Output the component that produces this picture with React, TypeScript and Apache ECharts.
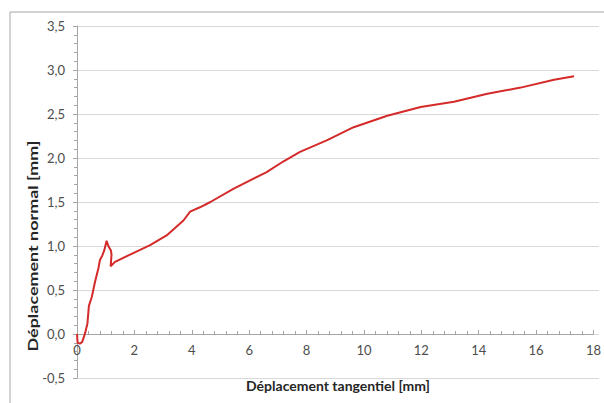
import React, { useEffect, useRef } from "react";
import * as echarts from "echarts";

const xValues = [0, 0.02, 0.10, 0.18, 0.28, 0.36, 0.41, 0.51, 0.62, 0.74, 0.79, 0.87, 0.94, 1.02, 1.08, 1.17, 1.19, 1.16, 1.31, 1.94, 2.52, 3.09, 3.67, 3.90, 4.24, 4.60, 5.39, 6.54, 7.11, 7.69, 8.61, 9.54, 10.70, 11.85, 13.0, 14.15, 15.30, 16.45, 17.14];
const yValues = [0, -0.10, -0.11, -0.09, 0.01, 0.12, 0.32, 0.42, 0.59, 0.75, 0.84, 0.89, 0.95, 1.06, 1.00, 0.95, 0.90, 0.77, 0.82, 0.92, 1.01, 1.12, 1.29, 1.39, 1.44, 1.50, 1.65, 1.84, 1.96, 2.07, 2.20, 2.35, 2.48, 2.58, 2.64, 2.73, 2.80, 2.89, 2.93];

const xTitle = "Déplacement tangentiel [mm]";
const yTitle = "Déplacement normal [mm]";

const X_MIN = 0;
const X_MAX = 18;
const X_STEP = 2;
const Y_MIN = -0.5;
const Y_MAX = 3.5;
const Y_STEP = 0.5;

const FONT = "Lato, 'Open Sans', sans-serif";

export default function App() {
  const ref = useRef<HTMLDivElement>(null);
  useEffect(() => {
    if (!ref.current) return;
    const chart = echarts.init(ref.current, undefined, { renderer: "svg" });
    const data = xValues.map((x, i) => [x, yValues[i]]);
    const top = 26;
    const bottom = 25;
    const plotH = 403 - top - bottom;
    const zeroFromBottom = 403 - (top + plotH * (Y_MAX - 0) / (Y_MAX - Y_MIN));
    chart.setOption({
      animation: false,
      backgroundColor: "#ffffff",
      grid: [
        { left: 77, right: 5, top, bottom, containLabel: false },
        { left: 77, right: 5, top, bottom: zeroFromBottom, containLabel: false },
      ],
      xAxis: [
        {
          type: "value",
          gridIndex: 0,
          min: X_MIN,
          max: X_MAX,
          interval: X_STEP,
          show: false,
        },
        {
          type: "value",
          gridIndex: 1,
          min: X_MIN,
          max: X_MAX,
          interval: X_STEP,
          axisLine: { show: true, onZero: false, lineStyle: { color: "#a6a6a6", width: 1 } },
          axisTick: { show: true, inside: true, length: 4, lineStyle: { color: "#a6a6a6" } },
          minorTick: { show: true, splitNumber: 5, length: 3, lineStyle: { color: "#a6a6a6" } },
          axisLabel: { color: "#4d4d4d", fontFamily: FONT, fontSize: 13, margin: 9 },
          splitLine: { show: false },
        },
      ],
      yAxis: [
        {
          type: "value",
          gridIndex: 0,
          min: Y_MIN,
          max: Y_MAX,
          interval: Y_STEP,
          axisLine: { show: true, onZero: false, lineStyle: { color: "#a6a6a6", width: 1 } },
          axisTick: { show: true, length: 4, lineStyle: { color: "#a6a6a6" } },
          minorTick: { show: true, splitNumber: 5, length: 3, lineStyle: { color: "#a6a6a6" } },
          axisLabel: {
            color: "#4d4d4d",
            fontFamily: FONT,
            fontSize: 13,
            margin: 12,
            formatter: (v: number) => v.toFixed(1).replace(".", ","),
          },
          splitLine: { show: true, lineStyle: { color: "#d9d9d9", width: 1 } },
        },
        {
          type: "value",
          gridIndex: 1,
          min: 0,
          max: Y_MAX,
          show: false,
        },
      ],
      graphic: [
        {
          type: "rect",
          shape: { x: 10, y: 12, width: 640, height: 440 },
          style: { fill: "none", stroke: "#a6a6a6", lineWidth: 1 },
          silent: true,
        },
        {
          type: "text",
          x: 338,
          y: 385,
          style: {
            text: xTitle,
            fontFamily: FONT,
            fontWeight: "bold",
            fontSize: 14,
            fill: "#262626",
            align: "center",
            verticalAlign: "middle",
          },
        },
        {
          type: "text",
          x: 33,
          y: 246,
          rotation: Math.PI / 2,
          scaleX: 1.38,
          style: {
            text: yTitle,
            fontFamily: FONT,
            fontWeight: "bold",
            fontSize: 13,
            fill: "#262626",
            align: "center",
            verticalAlign: "middle",
          },
        },
      ],
      series: [
        {
          type: "line",
          xAxisIndex: 0,
          yAxisIndex: 0,
          data,
          showSymbol: false,
          symbol: "none",
          smooth: false,
          lineStyle: { color: "#d42a2a", width: 2 },
        },
      ],
    });
    return () => chart.dispose();
  }, []);
  return (
    <div
      ref={ref}
      style={{ position: "fixed", left: 0, top: 0, width: 604, height: 403 }}
    />
  );
}
